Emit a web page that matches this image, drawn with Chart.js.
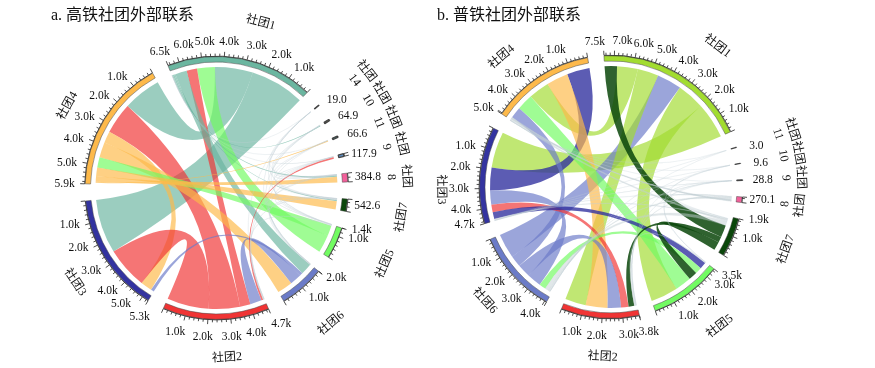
<!DOCTYPE html>
<html>
<head>
<meta charset="utf-8">
<style>
  body { margin: 0; background: #fff; }
  #wrap { position: relative; width: 875px; height: 368px; overflow: hidden; }
  canvas { position: absolute; top: 0; }
</style>
<script src="https://cdn.jsdelivr.net/npm/chart.js@4"></script>
</head>
<body>
<div id="wrap">
  <canvas id="chartA" width="433" height="368" style="left:0"></canvas>
  <canvas id="chartB" width="422" height="368" style="left:400px"></canvas>
</div>
<script>
// ring colours by community number, index 0 is the grey of the faint links
const ringColors = ['#c3d0d4', '#6bb6a0', '#f03434', '#3333a0', '#fdb94a', '#72fb62', '#6b7bc8', '#0a460a', '#f2609a', '#5b8cc0', '#6e6e50', '#2f6f70', '#555', '#555', '#3a3a70'];
const ringColorsB = ['#c3d0d4', '#a2dc30', '#f03434', '#3333a0', '#fdb94a', '#72fb62', '#6b7bc8', '#0a460a', '#f2609a', '#5b8cc0', '#345', '#345'];
// ribbon opacity by the same index
const tintAlpha = [0.5, 0.68, 0.68, 0.8, 0.68, 0.68, 0.68, 0.85, 0.68, 0.68, 0.68, 0.68, 0.68, 0.68, 0.68];

// a. 高铁
const titleA = 'a. 高铁社团外部联系';
const groupsA = [1, 4, 3, 2, 6, 5, 7, 8, 9, 11, 10, 14];
const totalsA = [6500, 5900, 5300, 4700, 2000, 1400, 542.6, 384.8, 117.9, 66.6, 64.9, 19.0];
const gapA = 745;
const startA = 43.5;
const nameShiftA = [-4, 2.5, 1.5, 3.8, -0.5, 0.5, -1.5, -1, -1, -1, -1, -1];
// crowded tick labels moved sideways, degrees clockwise, by community and tick
const labelNudgeA = { 1: { 5000: 3.5, 6000: 6, 6500: 1.7 }, 3: { 5000: 3, 5300: -2.7 }, 2: { 3000: 2, 4000: 3 } };
const ordersA = {
  1: [3, 4, 5, 2, 6, 7, 8, 10, 9, 11, 14],
  4: [1, 2, 3, 6, 5, 7, 8, 11],
  3: [1, 2, 4, 6],
  2: [3, 4, 1, 6, 9, 5, 8, 14, 7],
  6: [4, 2, 3, 1, 7, 8, 9, 10, 11, 14],
  5: [1, 4, 2, 7, 8, 9, 10, 14],
  7: [4, 1, 5, 2, 6, 8, 9, 10, 11, 14],
  8: [4, 1, 5, 2, 6, 7, 9, 10, 11, 14],
  9: [2, 1, 5, 6, 7, 8],
  11: [4, 1, 6, 7, 8],
  10: [1, 5, 6, 7, 8],
  14: [1, 2, 5, 6, 7, 8]
};
const linkFromA = [1, 1, 1, 1, 1, 1, 1, 1, 1, 1, 1, 4, 4, 4, 4, 4, 4, 4, 3, 3, 2, 2, 2, 2, 2, 6, 6, 6, 6, 6, 6, 5, 5, 5, 5, 5, 7, 7, 7, 7, 7, 8, 8, 8, 8];
const linkToA = [3, 4, 5, 2, 6, 7, 8, 10, 9, 11, 14, 2, 3, 6, 5, 7, 8, 11, 2, 6, 6, 9, 5, 8, 14, 8, 9, 10, 11, 14, 7, 7, 8, 9, 10, 14, 2, 9, 10, 11, 14, 9, 10, 11, 14];
const linkValA = [2600, 1820, 850, 500, 550, 60, 70, 40, 5, 2, 3, 1500, 550, 740, 500, 400, 270, 50, 2000, 150, 550, 90, 30, 10, 5, 8, 8, 8, 5, 4, 10, 20, 10, 5, 3, 2, 20, 6, 7, 3, 2, 4, 4, 2, 1];
const linkTintA = [1, 1, 5, 2, 1, 1, 1, 1, 0, 0, 0, 2, 4, 4, 5, 4, 4, 4, 2, 6, 6, 2, 0, 0, 0, 0, 0, 0, 0, 0, 0, 0, 0, 0, 0, 0, 0, 0, 0, 0, 0, 0, 0, 0, 0];

// b. 普铁
const titleB = 'b. 普铁社团外部联系';
const groupsB = [1, 4, 3, 6, 2, 5, 7, 8, 9, 10, 11];
const totalsB = [7500, 5050, 4700, 4100, 3800, 3500, 1900, 270.1, 28.8, 9.6, 3.0];
const gapB = 790;
const startB = 65.2;
const nameShiftB = [-6, 6.8, 6, 0, 2, 2.4, 3, 0, 0, 0, 0];
const labelNudgeB = { 1: { 7000: 1.5, 7500: -1.5 } };
const ordersB = {
  1: [3, 5, 6, 2, 4, 7],
  4: [3, 2, 1, 5, 6, 8, 7, 9, 10, 11],
  3: [1, 4, 6, 2, 5, 7, 8, 9, 10, 11],
  6: [1, 4, 2, 3, 5, 7, 8, 9, 10, 11],
  2: [1, 4, 6, 3, 7, 5, 8, 9, 10],
  5: [1, 4, 7, 6, 3, 2, 9, 10],
  7: [5, 2, 1, 6, 4, 3, 8, 9],
  8: [4, 6, 2, 3, 7],
  9: [6, 4, 3, 2, 7, 5],
  10: [3, 6, 4, 2, 5],
  11: [6, 3, 4]
};
const linkFromB = [1, 1, 1, 1, 1, 1, 4, 4, 4, 4, 4, 4, 3, 3, 3, 6, 6, 2, 5, 5, 7, 7, 8, 8, 8, 8, 8, 9, 9, 9, 9, 9, 9, 10, 10, 10, 10, 10, 11, 11, 11];
const linkToB = [3, 5, 6, 2, 4, 7, 3, 2, 5, 6, 8, 7, 6, 2, 5, 2, 5, 7, 7, 2, 6, 3, 4, 6, 2, 3, 7, 6, 4, 3, 2, 7, 5, 3, 6, 4, 2, 5, 6, 3, 4];
const linkValB = [1900, 1450, 1300, 1100, 1100, 650, 1200, 1150, 850, 600, 80, 100, 750, 400, 350, 700, 350, 300, 450, 50, 200, 50, 80, 80, 50, 30, 30, 10, 5, 5, 4, 2, 2, 3, 3, 2, 1, 0.6, 1, 1, 1];
const linkTintB = [1, 1, 6, 1, 1, 7, 3, 4, 5, 6, 0, 0, 6, 2, 3, 6, 5, 7, 7, 0, 0, 0, 0, 0, 0, 0, 0, 0, 0, 0, 0, 0, 0, 0, 0, 0, 0, 0, 0, 0, 0];

const serif = '"Liberation Serif", "Noto Sans CJK SC", serif';
const ringOuter = 132;
const ribbonRadius = 121;

const chordPlugin = {
  id: 'chord',
  beforeDatasetsDraw(chart) {
    const o = chart.options.plugins.chord;
    const ctx = chart.ctx;
    const arcs = chart.getDatasetMeta(0).data;
    const n = o.groups.length;
    const arcOf = i => arcs[2 * (n - 1 - i) + 1];

    // work out where each link sits inside its two groups
    const valOf = (a, b) => {
      for (let k = 0; k < o.from.length; k++) {
        if ((o.from[k] === a && o.to[k] === b) || (o.from[k] === b && o.to[k] === a)) return o.vals[k];
      }
      return 0;
    };
    const ends = {};
    o.groups.forEach((g, i) => {
      const arc = arcOf(i);
      const perUnit = (arc.endAngle - arc.startAngle) / o.totals[i];
      let pos = 0;
      (o.orders[g] || []).forEach(other => {
        const v = valOf(g, other);
        ends[g + '-' + other] = [arc.endAngle - pos * perUnit, arc.endAngle - (pos + v) * perUnit];
        pos += v;
      });
    });

    const cx = arcs[0].x, cy = arcs[0].y, r = ribbonRadius;
    o.from.forEach((a, k) => {
      const b = o.to[k];
      const p = ends[a + '-' + b], q = ends[b + '-' + a];
      if (!p || !q) return;
      ctx.save();
      ctx.beginPath();
      ctx.arc(cx, cy, r, p[0], p[1], true);
      ctx.quadraticCurveTo(cx, cy, cx + r * Math.cos(q[0]), cy + r * Math.sin(q[0]));
      ctx.arc(cx, cy, r, q[0], q[1], true);
      ctx.quadraticCurveTo(cx, cy, cx + r * Math.cos(p[0]), cy + r * Math.sin(p[0]));
      ctx.closePath();
      const tint = o.tints[k];
      ctx.globalAlpha = tintAlpha[tint];
      ctx.fillStyle = o.colors[tint];
      ctx.fill();
      if (tint === 0) {
        // hairlines would vanish otherwise
        ctx.strokeStyle = o.colors[0];
        ctx.lineWidth = 0.3;
        ctx.stroke();
      }
      ctx.restore();
    });
  },
  afterDraw(chart) {
    const o = chart.options.plugins.chord;
    const ctx = chart.ctx;
    const arcs = chart.getDatasetMeta(0).data;
    const n = o.groups.length;
    ctx.save();
    ctx.fillStyle = '#111';
    ctx.strokeStyle = '#222';
    ctx.textAlign = 'center';
    ctx.textBaseline = 'middle';

    o.groups.forEach((g, i) => {
      const arc = arcs[2 * (n - 1 - i) + 1];
      const cx = arc.x, cy = arc.y;
      const perUnit = (arc.endAngle - arc.startAngle) / o.totals[i];
      const total = o.totals[i];
      const R = arc.outerRadius + 0.5;
      const nudges = o.labelNudge[g] || {};

      // axis line
      ctx.lineWidth = 0.8;
      ctx.beginPath();
      ctx.arc(cx, cy, R, arc.startAngle, arc.endAngle);
      ctx.stroke();

      // ticks, counted counter-clockwise from the group's start
      const tickAt = (v, len) => {
        const a = arc.endAngle - v * perUnit;
        ctx.beginPath();
        ctx.moveTo(cx + R * Math.cos(a), cy + R * Math.sin(a));
        ctx.lineTo(cx + (R + len) * Math.cos(a), cy + (R + len) * Math.sin(a));
        ctx.stroke();
      };
      if (total >= 100) {
        for (let v = 0; v <= total; v += 200) tickAt(v, v % 1000 === 0 ? 4.5 : 2.5);
        tickAt(total, 4.5);
      }

      // tick labels sit beside the tick, more sideways than a radial offset
      ctx.font = '11.5px ' + serif;
      const label = (v, text) => {
        const a = arc.endAngle - v * perUnit + (nudges[v] || 0) * Math.PI / 180;
        const c = Math.cos(a), s = Math.sin(a);
        const dx = Math.sign(c) * 20 * Math.sqrt(Math.abs(c));
        const dy = (s < 0 ? -14 : 17) * s * s;
        ctx.fillText(text, cx + 132 * c + dx, cy + 132 * s + dy);
      };
      if (total < 1000) {
        label(total / 2, total.toFixed(1));
      } else {
        for (let v = 1000; v <= total; v += 1000) label(v, (v / 1000).toFixed(1) + 'k');
        if (total % 1000 >= 250) label(total, (total / 1000).toFixed(1) + 'k');
      }

      // group name, follows the circle and flips on the lower half
      const mid = (arc.startAngle + arc.endAngle) / 2 - o.nameShift[i] * Math.PI / 180;
      const c = Math.cos(mid), s = Math.sin(mid);
      const rot = s < 0 ? mid + Math.PI / 2 : mid - Math.PI / 2;
      ctx.font = '12px ' + serif;
      const put = (text, r) => {
        ctx.save();
        ctx.translate(cx + r * c, cy + r * s);
        ctx.rotate(rot);
        ctx.fillText(text, 0, 0);
        ctx.restore();
      };
      if (total < 500) {
        put('社团', 190);
        put(String(g), 175);
      } else {
        put('社团' + g, 170 + (c > 0 ? 18 * c * c : 0));
      }
    });

    // chart title
    ctx.font = '16px ' + serif;
    ctx.textAlign = 'left';
    ctx.fillStyle = '#111';
    ctx.fillText(o.title, o.titleX, 16);
    ctx.restore();
  }
};

function buildChart(id, cfg) {
  const data = [], fills = [], edges = [], widths = [];
  for (let i = cfg.groups.length - 1; i >= 0; i--) {
    data.push(cfg.gap, cfg.totals[i]);
    fills.push('rgba(0,0,0,0)', cfg.colors[cfg.groups[i]]);
    edges.push('rgba(0,0,0,0)', '#444');
    widths.push(0, cfg.totals[i] < 150 ? 1.2 : 0.5);
  }
  return new Chart(document.getElementById(id), {
    type: 'doughnut',
    data: { labels: data.map((v, i) => i), datasets: [{ data, backgroundColor: fills, borderColor: edges, borderWidth: widths }] },
    options: {
      responsive: false,
      animation: false,
      events: [],
      rotation: cfg.start,
      cutout: ringOuter - 6,
      layout: { padding: cfg.padding },
      plugins: {
        legend: { display: false },
        tooltip: { enabled: false },
        chord: cfg
      }
    },
    plugins: [chordPlugin]
  });
}

buildChart('chartA', {
  groups: groupsA, totals: totalsA, gap: gapA, start: startA, orders: ordersA, nameShift: nameShiftA, labelNudge: labelNudgeA,
  from: linkFromA, to: linkToA, vals: linkValA, tints: linkTintA,
  colors: ringColors, title: titleA, titleX: 51,
  padding: { top: 56, bottom: 48, left: 0, right: 0 }
});
buildChart('chartB', {
  groups: groupsB, totals: totalsB, gap: gapB, start: startB, orders: ordersB, nameShift: nameShiftB, labelNudge: labelNudgeB,
  from: linkFromB, to: linkToB, vals: linkValB, tints: linkTintB,
  colors: ringColorsB, title: titleB, titleX: 37,
  padding: { top: 55, bottom: 49, left: 0, right: 0 }
});
</script>
</body>
</html>
